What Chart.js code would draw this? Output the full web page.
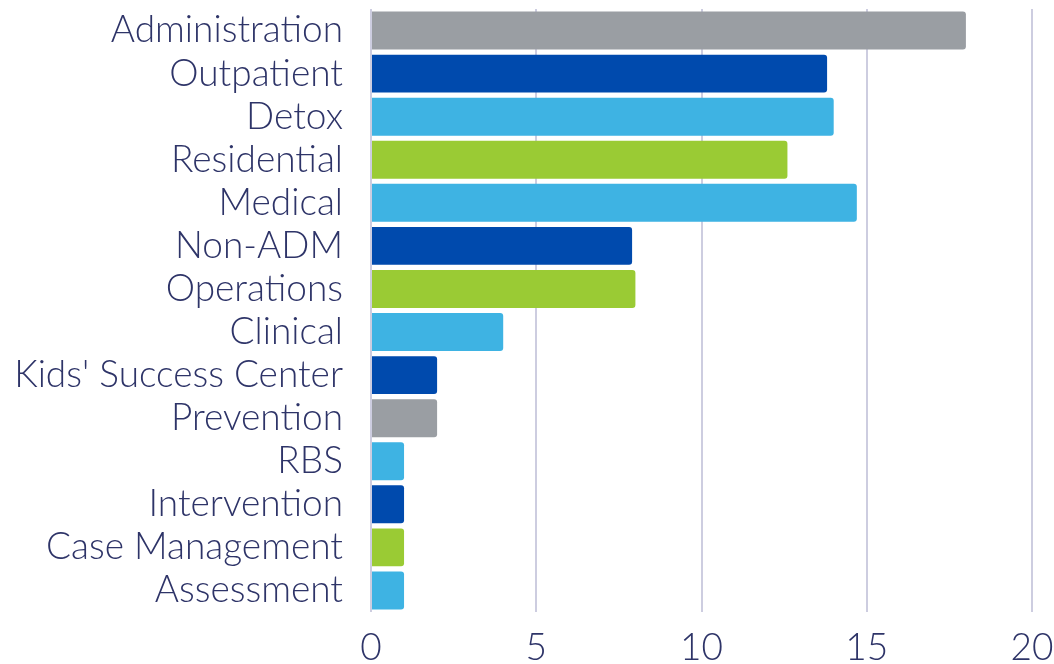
<!DOCTYPE html>
<html>
<head>
<meta charset="utf-8">
<script src="https://cdn.jsdelivr.net/npm/chart.js@4/dist/chart.umd.min.js"></script>
<style>
html,body{margin:0;padding:0;background:#fff;}
#wrap{width:1054px;height:664px;position:relative;}
</style>
</head>
<body>
<div id="wrap"><canvas id="c"></canvas></div>
<script>
const categories = ["Administration","Outpatient","Detox","Residential","Medical","Non-ADM","Operations","Clinical","Kids' Success Center","Prevention","RBS","Intervention","Case Management","Assessment"];
const values = [18, 13.8, 14, 12.6, 14.7, 7.9, 8, 4, 2, 2, 1, 1, 1, 1];
const barColors = ["#9a9ea3","#004aad","#3eb3e3","#9acb34","#3eb3e3","#004aad","#9acb34","#3eb3e3","#004aad","#9a9ea3","#3eb3e3","#004aad","#9acb34","#3eb3e3"];
const xTicks = [0, 5, 10, 15, 20];

const textColor = "#2e3468";
const fontFamily = "Lato, 'Open Sans', sans-serif";

new Chart(document.getElementById('c'), {
  type: 'bar',
  data: {
    labels: categories,
    datasets: [{
      data: values,
      backgroundColor: barColors,
      borderRadius: 3,
      borderSkipped: 'start',
      categoryPercentage: 1,
      barPercentage: 0.88
    }]
  },
  options: {
    indexAxis: 'y',
    responsive: true,
    maintainAspectRatio: false,
    animation: false,
    layout: { padding: { top: 9, right: 0, bottom: 0, left: 0 } },
    plugins: { legend: { display: false }, tooltip: { enabled: false } },
    scales: {
      x: {
        min: 0, max: 20,
        afterBuildTicks: s => { s.ticks = xTicks.map(v => ({ value: v })); },
        afterFit: s => { s.paddingRight = 22; s.paddingLeft = 0; s.height = 52; },
        grid: { color: "#cdcde0", lineWidth: 2, drawTicks: false },
        border: { display: false },
        ticks: { color: textColor, font: { family: fontFamily, size: 37, weight: '300' }, padding: 14 }
      },
      y: {
        afterFit: s => { s.width = 371; s.paddingTop = 0; s.paddingBottom = 0; },
        grid: { display: false, drawTicks: false },
        border: { display: false },
        ticks: { color: textColor, font: { family: fontFamily, size: 37, weight: '300' }, padding: 28, autoSkip: false }
      }
    }
  }
});
</script>
</body>
</html>
